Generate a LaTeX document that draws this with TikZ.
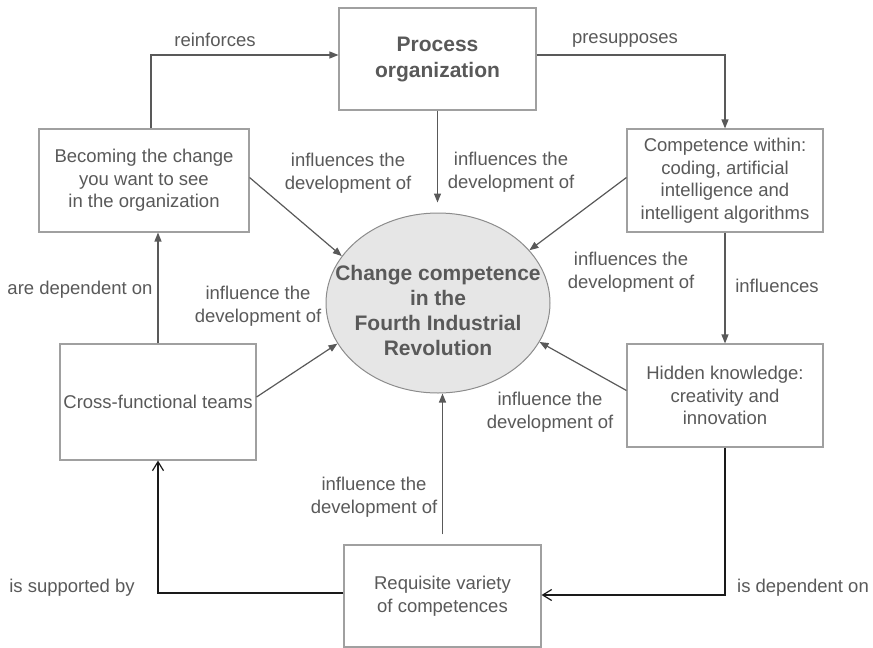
\documentclass[tikz,border=0pt]{standalone}
\usepackage{fontspec}
\setmainfont{Liberation Sans}
\usetikzlibrary{arrows.meta,shapes.geometric}
\definecolor{txt}{HTML}{595959}
\definecolor{boxline}{HTML}{A0A0A0}
\definecolor{arr}{HTML}{595959}
\definecolor{ellfill}{HTML}{E6E6E6}
\definecolor{ellline}{HTML}{8C8C8C}
\definecolor{dark}{HTML}{1A1A1A}
\begin{document}
\begin{tikzpicture}[x=1pt,y=-1pt,
  every node/.style={text=txt, font=\fontsize{18.5}{22.5}\selectfont, inner sep=0pt},
  conceptbox/.style={draw=boxline, line width=1.1pt, fill=white, align=center},
  lbl/.style={align=center},
  flow/.style={draw=arr, line width=1.2pt, -{Triangle[length=9pt,width=7pt]}},
  backflow/.style={draw=dark, line width=1.4pt, -{Straight Barb[length=9pt,width=11pt,line width=1.2pt]}},
  hub/.style={ellipse, draw=ellline, fill=ellfill, line width=1pt,
    minimum width=224pt, minimum height=180pt},
  hubtext/.style={align=center, font=\bfseries\fontsize{21}{25}\selectfont}
]
\useasboundingbox (0,0) rectangle (873,648);

% concept boxes
\node[conceptbox, minimum width=197pt, minimum height=102pt,
  font=\bfseries\fontsize{21}{26}\selectfont] (process) at (437.5,59) {Process\\organization};
\node[conceptbox, minimum width=210pt, minimum height=103pt] (becoming) at (144,180.5)
  {Becoming the change\\you want to see\\in the organization};
\node[conceptbox, minimum width=196pt, minimum height=103pt] (comp) at (725,180.5)
  {Competence within:\\coding, artificial\\intelligence and\\intelligent algorithms};
\node[conceptbox, minimum width=196pt, minimum height=103pt] (hidden) at (725,395.5)
  {Hidden knowledge:\\creativity and\\innovation};
\node[conceptbox, minimum width=196pt, minimum height=116pt] (cross) at (158,402)
  {Cross-functional teams};
\node[conceptbox, minimum width=197pt, minimum height=102pt] (req) at (442.5,596)
  {Requisite variety\\of competences};

% central concept: the ellipse and its title
\node[hub] (ell) at (438,303) {};
\node[hubtext] (ell-title) at (438,310) {Change competence\\in the\\Fourth Industrial\\Revolution};

% influence arrows
\draw[flow] ([xshift=7pt]becoming.north) |- ([yshift=4pt]process.west);
\draw[flow] ([yshift=4pt]process.east) -| (comp.north);
\draw[flow, shorten >=10pt] (process.south) -- (process.south |- ell.north);
\draw[flow] ([yshift=3pt]becoming.east) -- (ell.154);
\draw[flow] ([yshift=3pt]comp.west) -- (ell.30);
\draw[flow] (comp.south) -- (hidden.north);
\draw[flow] ([yshift=5pt]hidden.west) -- (ell.339);
\draw[flow] ([yshift=5pt]cross.east) -- (ell.202);
\draw[flow] (cross.north) -- (cross.north |- becoming.south);
\draw[flow, shorten <=10pt] (req.north) -- (req.north |- ell.south);

% dependency loops along the bottom
\draw[backflow] ([yshift=3pt]req.west) -| (cross.south);
\draw[backflow] (hidden.south) |- ([yshift=1pt]req.east);

% connector labels
\node[lbl] (l-reinf) at (215,40) {reinforces};
\node[lbl] (l-presup) at (625,40) {presupposes};
\node[lbl] (l-becoming) at (348,173) {influences the\\development of};
\node[lbl] (l-process) at (511,172) {influences the\\development of};
\node[lbl] (l-comp) at (631,272) {influences the\\development of};
\node[lbl] (l-influences) at (777,286) {influences};
\node[lbl] (l-cross) at (258,306) {influence the\\development of};
\node[lbl] (l-aredep) at (80,290) {are dependent on};
\node[lbl] (l-hidden) at (550,412) {influence the\\development of};
\node[lbl] (l-req) at (374,497) {influence the\\development of};
\node[lbl] (l-supp) at (72,588) {is supported by};
\node[lbl] (l-isdep) at (803,588) {is dependent on};
\end{tikzpicture}
\end{document}
